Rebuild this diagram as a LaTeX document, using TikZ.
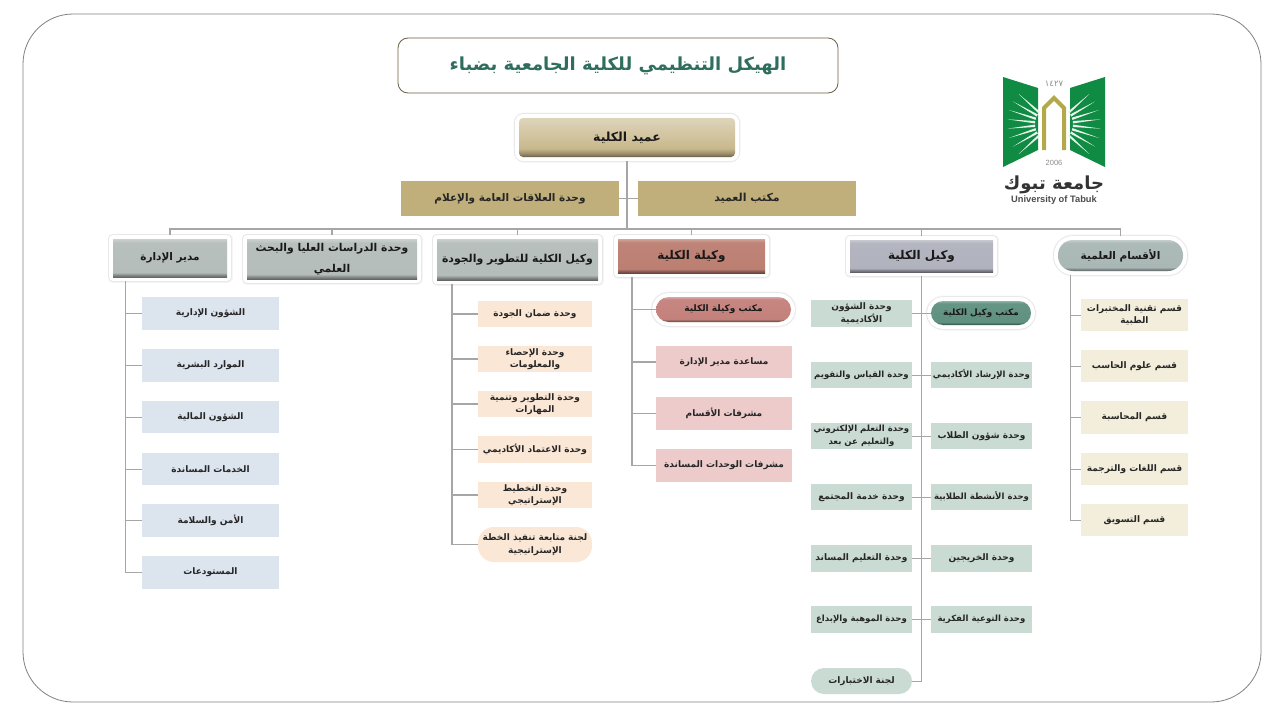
\documentclass[tikz,border=0pt]{standalone}
\usepackage{fontspec}
\usetikzlibrary{calc}
\setmainfont{Liberation Sans}
\newfontfamily\arabicfont[Script=Arabic]{DejaVu Sans}
\TeXXeTstate=1
\newcommand{\ar}[1]{{\arabicfont\beginR #1\endR}}
\definecolor{bline}{HTML}{A6A6A6}
\definecolor{cAdm}{HTML}{DCE4EE}
\definecolor{cDev}{HTML}{FBE7D5}
\definecolor{cFem}{HTML}{EDCBCB}
\definecolor{cVic}{HTML}{CADBD4}
\definecolor{cDep}{HTML}{F3EEDC}
\definecolor{cTan}{HTML}{C0AF7A}
\definecolor{cGrn}{HTML}{0F8B43}
\definecolor{cGld}{HTML}{B3A94A}
\definecolor{hGray}{HTML}{B5BDBA}
\definecolor{hRose}{HTML}{BC7F72}
\definecolor{hLil}{HTML}{B0B2BD}
\definecolor{hSteel}{HTML}{A9B7B5}
\definecolor{hPink}{HTML}{C4817C}
\definecolor{hGreen}{HTML}{5F9180}
\definecolor{hDean}{HTML}{C8B88C}
\newcommand{\mkbevel}[2]{\pgfdeclareverticalshading{#1}{100bp}{color(0bp)=(#2!55!black); color(25bp)=(#2!55!black); color(28bp)=(#2!75!black); color(31bp)=(#2); color(70bp)=(#2!96!white); color(75bp)=(#2!70!white); color(100bp)=(#2!70!white)}}
\mkbevel{bvGray}{hGray}
\mkbevel{bvRose}{hRose}
\mkbevel{bvLil}{hLil}
\mkbevel{bvSteel}{hSteel}
\mkbevel{bvPink}{hPink}
\mkbevel{bvGreen}{hGreen}
\pgfdeclareverticalshading{bvDean}{100bp}{color(0bp)=(hDean!50!black); color(25bp)=(hDean!50!black); color(29bp)=(hDean!75!black); color(36bp)=(hDean); color(75bp)=(hDean!60!white); color(100bp)=(hDean!60!white)}
\tikzset{
  x=1pt,y=-1pt,
  leaf/.style={inner sep=0pt,align=center,font=\bfseries\fontsize{9}{12.5}\selectfont,text=black!85},
  snug/.style={font=\bfseries\fontsize{8.55}{12.5}\selectfont},
  head/.style={inner sep=0pt,align=center,font=\bfseries\fontsize{10.5}{21}\selectfont,text=black!90,
    preaction={draw=black!4,line width=11pt,line join=round},
    preaction={draw=black!9,line width=9.6pt,line join=round},
    preaction={draw=white,line width=8pt,line join=round}},
  conn/.style={draw=bline,line width=1.5pt},
  thin conn/.style={draw=bline,line width=.9pt},
}
\newcommand{\bx}[7]{\node[#6,minimum width={(#4-#2)*1pt},minimum height={(#5-#3)*1pt}] (#1) at ({(#2+#4)/2},{(#3+#5)/2}) {#7};}
\begin{document}
\begin{tikzpicture}
\useasboundingbox (0,0) rectangle (1280,720);
\fill[white] (0,0) rectangle (1280,720);
\draw[black!50,line width=.8pt,rounded corners=50pt] (23,14) rectangle (1261,702);

% title
\bx{title}{398}{38}{838}{93}{draw=black!45!cTan,line width=.8pt,rounded corners=10pt,inner sep=0pt,text={rgb,255:red,47;green,110;blue,94},font=\bfseries\fontsize{18}{20}\selectfont}{\ar{الهيكل التنظيمي للكلية الجامعية بضباء}}

% logo
\begin{scope}
 \fill[cGrn] (1003,77) -- (1038,88) -- (1038,150) -- (1003,167) -- cycle;
 \fill[cGrn] (1105,77) -- (1070,88) -- (1070,150) -- (1105,167) -- cycle;
 \coordinate (raysL) at (1052,124);
 \coordinate (raysR) at (1056,124);
 \foreach \a in {138,150,162,174,186,198,210,222}
    \fill[white!90!cGrn] ($(raysL)+(\a-4:17)$) -- ($(raysL)+(\a:45)$) -- ($(raysL)+(\a+4:17)$) -- cycle;
 \foreach \a in {-42,-30,-18,-6,6,18,30,42}
    \fill[white!90!cGrn] ($(raysR)+(\a-4:17)$) -- ($(raysR)+(\a:45)$) -- ($(raysR)+(\a+4:17)$) -- cycle;
 \draw[cGld,line width=4pt,miter limit=4] (1044,150) -- (1044,108) -- (1054,98) -- (1064,108) -- (1064,150);
\end{scope}
\node[inner sep=0pt,text=black!45,font=\fontsize{8.5}{9}\selectfont] (hijri) at (1054,84) {\ar{١٤٢٧}};
\node[inner sep=0pt,text=black!45,font=\fontsize{7.5}{8}\selectfont] (greg) at (1054,163) {2006};
\node[inner sep=0pt,text=black!80,font=\bfseries\fontsize{18}{19}\selectfont] (logoar) at (1054,185) {\ar{جامعة تبوك}};
\node[inner sep=0pt,text=black!70,font=\bfseries\fontsize{9.3}{10}\selectfont] (logoen) at (1054,200) {University of Tabuk};

% coordinates
\coordinate (bus) at (627,229);
\coordinate (sAdm) at (125,0);
\coordinate (sDev) at (452,0);
\coordinate (sFem) at (632,0);
\coordinate (sVic) at (921,0);
\coordinate (sDep) at (1070,0);

% top nodes
\bx{dean}{519}{118}{735}{157}{head,rounded corners=4pt,shading=bvDean,font=\bfseries\fontsize{12.5}{15}\selectfont}{\ar{عميد الكلية}}
\bx{off}{638}{181}{856}{216}{leaf,fill=cTan,font=\bfseries\fontsize{11}{12}\selectfont}{\ar{مكتب العميد}}
\bx{rel}{401}{181}{619}{216}{leaf,fill=cTan,font=\bfseries\fontsize{10.5}{12}\selectfont}{\ar{وحدة العلاقات العامة والإعلام}}

\bx{adm}{113}{239}{227}{277}{head,shading=bvGray}{\ar{مدير الإدارة}}
\bx{grad}{247}{239}{417}{279}{head,shading=bvGray,font=\bfseries\fontsize{10.8}{21.5}\selectfont}{\ar{وحدة الدراسات العليا والبحث}\\\ar{العلمي}}
\bx{dev}{437}{239}{598}{280}{head,shading=bvGray,font=\bfseries\fontsize{10.9}{20}\selectfont}{\ar{وكيل الكلية للتطوير والجودة}}
\bx{fem}{618}{239}{765}{273}{head,shading=bvRose,font=\bfseries\fontsize{12}{20}\selectfont}{\ar{وكيلة الكلية}}
\bx{vic}{850}{240}{993}{272}{head,shading=bvLil,font=\bfseries\fontsize{12}{20}\selectfont}{\ar{وكيل الكلية}}
\bx{dep}{1058}{240}{1183}{271}{head,rounded corners=15pt,shading=bvSteel}{\ar{الأقسام العلمية}}

% admin children
\bx{a1}{142}{297}{279}{330}{leaf,fill=cAdm}{\ar{الشؤون الإدارية}}
\bx{a2}{142}{349}{279}{382}{leaf,fill=cAdm}{\ar{الموارد البشرية}}
\bx{a3}{142}{401}{279}{433}{leaf,fill=cAdm}{\ar{الشؤون المالية}}
\bx{a4}{142}{453}{279}{485}{leaf,fill=cAdm}{\ar{الخدمات المساندة}}
\bx{a5}{142}{504}{279}{537}{leaf,fill=cAdm}{\ar{الأمن والسلامة}}
\bx{a6}{142}{556}{279}{589}{leaf,fill=cAdm}{\ar{المستودعات}}

% development children
\bx{d1}{478}{301}{592}{327}{leaf,fill=cDev}{\ar{وحدة ضمان الجودة}}
\bx{d2}{478}{346}{592}{372}{leaf,fill=cDev}{\ar{وحدة الإحصاء}\\\ar{والمعلومات}}
\bx{d3}{478}{391}{592}{417}{leaf,fill=cDev}{\ar{وحدة التطوير وتنمية}\\\ar{المهارات}}
\bx{d4}{478}{436}{592}{463}{leaf,fill=cDev}{\ar{وحدة الاعتماد الأكاديمي}}
\bx{d5}{478}{482}{592}{508}{leaf,fill=cDev}{\ar{وحدة التخطيط}\\\ar{الإستراتيجي}}
\bx{d6}{478}{527}{592}{562}{leaf,fill=cDev,rounded corners=16pt}{\ar{لجنة متابعة تنفيذ الخطة}\\\ar{الإستراتيجية}}

% female vice dean children
\bx{f0}{656}{297}{791}{322}{head,rounded corners=12.5pt,shading=bvPink,font=\bfseries\fontsize{9}{12}\selectfont}{\ar{مكتب وكيلة الكلية}}
\bx{f1}{656}{346}{792}{378}{leaf,fill=cFem}{\ar{مساعدة مدير الإدارة}}
\bx{f2}{656}{397}{792}{430}{leaf,fill=cFem}{\ar{مشرفات الأقسام}}
\bx{f3}{656}{449}{792}{482}{leaf,fill=cFem}{\ar{مشرفات الوحدات المساندة}}

% vice dean, right column
\bx{r0}{931}{301}{1031}{325}{head,rounded corners=12pt,shading=bvGreen,font=\bfseries\fontsize{8.8}{12}\selectfont}{\ar{مكتب وكيل الكلية}}
\bx{r1}{931}{362}{1032}{388}{leaf,snug,fill=cVic}{\ar{وحدة الإرشاد الأكاديمي}}
\bx{r2}{931}{423}{1032}{449}{leaf,fill=cVic}{\ar{وحدة شؤون الطلاب}}
\bx{r3}{931}{484}{1032}{510}{leaf,snug,fill=cVic}{\ar{وحدة الأنشطة الطلابية}}
\bx{r4}{931}{545}{1032}{572}{leaf,fill=cVic}{\ar{وحدة الخريجين}}
\bx{r5}{931}{606}{1032}{633}{leaf,snug,fill=cVic}{\ar{وحدة التوعية الفكرية}}

% vice dean, left column
\bx{l0}{811}{300}{912}{327}{leaf,fill=cVic}{\ar{وحدة الشؤون}\\\ar{الأكاديمية}}
\bx{l1}{811}{362}{912}{388}{leaf,snug,fill=cVic}{\ar{وحدة القياس والتقويم}}
\bx{l2}{811}{423}{912}{449}{leaf,snug,fill=cVic}{\ar{وحدة التعلم الإلكتروني}\\\ar{والتعليم عن بعد}}
\bx{l3}{811}{484}{912}{510}{leaf,fill=cVic}{\ar{وحدة خدمة المجتمع}}
\bx{l4}{811}{545}{912}{572}{leaf,fill=cVic}{\ar{وحدة التعليم المساند}}
\bx{l5}{811}{606}{912}{633}{leaf,snug,fill=cVic}{\ar{وحدة الموهبة والإبداع}}
\bx{l6}{811}{668}{912}{694}{leaf,fill=cVic,rounded corners=13pt}{\ar{لجنة الاختبارات}}

% departments
\bx{p1}{1081}{299}{1188}{331}{leaf,fill=cDep}{\ar{قسم تقنية المختبرات}\\\ar{الطبية}}
\bx{p2}{1081}{350}{1188}{382}{leaf,fill=cDep}{\ar{قسم علوم الحاسب}}
\bx{p3}{1081}{401}{1188}{434}{leaf,fill=cDep}{\ar{قسم المحاسبة}}
\bx{p4}{1081}{453}{1188}{485}{leaf,fill=cDep}{\ar{قسم اللغات والترجمة}}
\bx{p5}{1081}{504}{1188}{536}{leaf,fill=cDep}{\ar{قسم التسويق}}

% connectors
\draw[conn] ([yshift=-4pt]dean.south) -- (bus);
\draw[thin conn] (rel.east) -- (off.west);
\foreach \n in {adm,grad,dev,fem,vic,dep}
  \draw[conn] ([yshift=4pt]\n.north) |- (bus);
\foreach \n in {a1,a2,a3,a4,a5,a6}
  \draw[thin conn] ([yshift=-4pt]adm.south -| sAdm) |- (\n.west);
\foreach \n in {d1,d2,d3,d4,d5,d6}
  \draw[conn] ([yshift=-4pt]dev.south -| sDev) |- (\n.west);
\foreach \n in {f0,f1,f2,f3}
  \draw[conn] ([yshift=-4pt]fem.south -| sFem) |- (\n.west);
\foreach \n in {r0,r1,r2,r3,r4,r5}
  \draw[thin conn] ([yshift=-4pt]vic.south -| sVic) |- (\n.west);
\foreach \n in {l0,l1,l2,l3,l4,l5,l6}
  \draw[thin conn] ([yshift=-4pt]vic.south -| sVic) |- (\n.east);
\foreach \n in {p1,p2,p3,p4,p5}
  \draw[thin conn] ([yshift=-4pt]dep.south -| sDep) |- (\n.west);
\end{tikzpicture}
\end{document}
